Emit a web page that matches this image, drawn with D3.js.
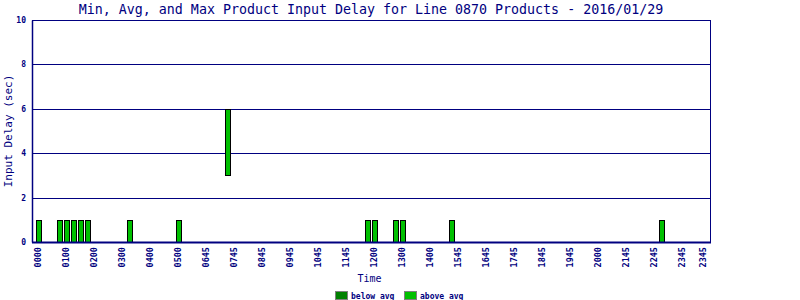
<!DOCTYPE html>
<html>
<head>
<meta charset="utf-8">
<script src="https://cdn.jsdelivr.net/npm/d3@7"></script>
<style>
  body { margin: 0; background: #fff; }
  text { font-family: "DejaVu Sans Mono", monospace; fill: #000080; }
</style>
</head>
<body>
<div id="canvas"></div>
<script>
// 96 quarter-hour slots across the day
const slotCount = 96;
const tickSlots = [0, 4, 8, 12, 16, 20, 24, 28, 32, 36, 40, 44, 48, 52, 56, 60, 64, 68, 72, 76, 80, 84, 88, 92, 95];
const tickLabels = ['0000', '0100', '0200', '0300', '0400', '0500', '0645', '0745', '0845', '0945', '1045', '1145', '1200',
                    '1300', '1400', '1545', '1645', '1745', '1845', '1945', '2000', '2145', '2245', '2345', '2345'];

// bars: slot, min delay, max delay
const barSlots = [0, 3, 4, 5, 6, 7, 13, 20, 27, 47, 48, 51, 52, 59, 89];
const minDelay = [0, 0, 0, 0, 0, 0, 0, 0, 3, 0, 0, 0, 0, 0, 0];
const maxDelay = [1, 1, 1, 1, 1, 1, 1, 1, 6, 1, 1, 1, 1, 1, 1];

const yTicks = [0, 2, 4, 6, 8, 10];

const w = 800;
const h = 300;
const plotL = 32, plotR = 710, plotT = 20, plotB = 242;

const svg = d3.select('#canvas')
              .append('svg')
              .attr('width', w)
              .attr('height', h);

const xScale = d3.scaleBand()
                 .domain(d3.range(slotCount))
                 .range([plotL + 2.5, plotR - 3.5]);

const yScale = d3.scaleLinear()
                 .domain([0, 10])
                 .range([plotB, plotT]);

const bars = barSlots.map((s, i) => ({slot: s, min: minDelay[i], max: maxDelay[i]}));

// gridlines
svg.append('g')
   .selectAll('line')
   .data(yTicks.filter(d => d > 0))
   .enter()
   .append('line')
   .attr('x1', plotL)
   .attr('x2', plotR)
   .attr('y1', d => Math.round(yScale(d)) + 0.5)
   .attr('y2', d => Math.round(yScale(d)) + 0.5)
   .attr('stroke', '#000080');

// frame on the right
svg.append('line')
   .attr('x1', plotR + 0.5).attr('x2', plotR + 0.5)
   .attr('y1', plotT).attr('y2', plotB)
   .attr('stroke', '#000080');

const bw = 5;
svg.append('g')
   .selectAll('rect')
   .data(bars)
   .enter()
   .append('rect')
   .attr('x', d => Math.round(xScale(d.slot) + (xScale.bandwidth() - bw) / 2) + 0.5)
   .attr('y', d => Math.round(yScale(d.max)) + 0.5)
   .attr('width', bw)
   .attr('height', d => Math.round(yScale(d.min)) - Math.round(yScale(d.max)))
   .attr('fill', '#00c000')
   .attr('stroke', '#000')
   .attr('stroke-width', 1);

// y axis
const yAxis = d3.axisLeft(yScale).tickValues(yTicks).tickSize(0).tickPadding(6);
const gy = svg.append('g')
   .attr('transform', 'translate(' + plotL + ', 0)')
   .call(yAxis);
gy.select('.domain').attr('stroke', '#000080').attr('stroke-width', 1.5);
gy.selectAll('text')
  .style('font-size', '8px')
  .style('font-weight', 'bold')
  .attr('fill', '#000080');

// x axis
const xAxis = d3.axisBottom(xScale)
                .tickValues(tickSlots)
                .tickFormat((d, i) => tickLabels[i])
                .tickSize(0);
const gx = svg.append('g')
   .attr('transform', 'translate(0, ' + plotB + ')')
   .call(xAxis);
gx.select('.domain').attr('d', 'M' + plotL + ',0.5H' + (plotR + 1)).attr('stroke', '#000080').attr('stroke-width', 2);
gx.selectAll('text')
  .attr('transform', 'rotate(-90)')
  .attr('x', -5)
  .attr('y', 0)
  .attr('dy', '0.35em')
  .style('text-anchor', 'end')
  .style('font-size', '8.5px')
  .style('font-weight', 'bold')
  .attr('fill', '#000080');

// title
svg.append('text')
   .attr('x', (plotL + plotR) / 2)
   .attr('y', 14)
   .style('text-anchor', 'middle')
   .style('font-size', '13.3px')
   .text('Min, Avg, and Max Product Input Delay for Line 0870 Products - 2016/01/29');

svg.append('text')
   .attr('transform', 'translate(12, ' + ((plotT + plotB) / 2) + ') rotate(-90)')
   .style('text-anchor', 'middle')
   .style('font-size', '11px')
   .text('Input Delay (sec)');

svg.append('text')
   .attr('x', 369.5)
   .attr('y', 282)
   .style('text-anchor', 'middle')
   .style('font-size', '10px')
   .text('Time');

// legend
const legend = [{label: 'below avg', color: '#008000'}, {label: 'above avg', color: '#00c000'}];
const lg = svg.append('g')
   .selectAll('g')
   .data(legend)
   .enter()
   .append('g')
   .attr('transform', (d, i) => 'translate(' + (335 + i * 69) + ', 291)');
lg.append('rect')
  .attr('x', 0.5).attr('y', 0.5)
  .attr('width', 12).attr('height', 8)
  .attr('fill', d => d.color)
  .attr('stroke', '#808080');
lg.append('text')
  .attr('x', 16)
  .attr('y', 8)
  .style('font-size', '8px')
  .style('font-weight', 'bold')
  .text(d => d.label);
</script>
</body>
</html>
